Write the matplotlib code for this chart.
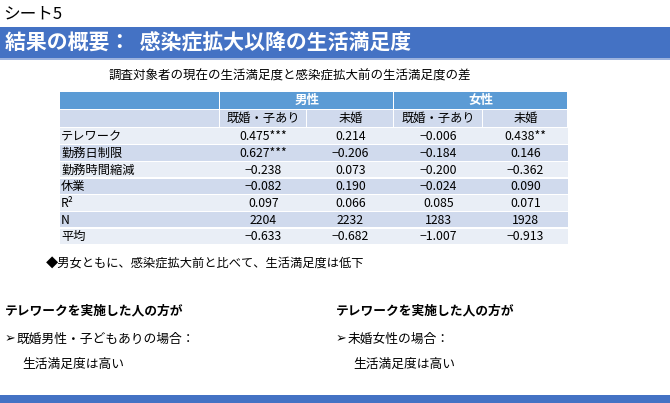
import matplotlib.pyplot as plt
from matplotlib.patches import Rectangle

plt.rcParams["font.family"] = "Noto Sans CJK JP"

ROW_LABELS = ["テレワーク", "勤務日制限", "勤務時間縮減", "休業", "R²", "N", "平均"]
GROUPS = ["男性", "女性"]
SUB_HEADERS = ["既婚・子あり", "未婚", "既婚・子あり", "未婚"]
MALE_MARRIED = ["0.475***", "0.627***", "−0.238", "−0.082", "0.097", "2204", "−0.633"]
MALE_SINGLE = ["0.214", "−0.206", "0.073", "0.190", "0.066", "2232", "−0.682"]
FEMALE_MARRIED = ["−0.006", "−0.184", "−0.200", "−0.024", "0.085", "1283", "−1.007"]
FEMALE_SINGLE = ["0.438**", "0.146", "−0.362", "0.090", "0.071", "1928", "−0.913"]

W, H = 670, 403
fig = plt.figure(figsize=(W / 100, H / 100), dpi=100)
ax = fig.add_axes([0, 0, 1, 1])
ax.set_xlim(0, W)
ax.set_ylim(H, 0)
ax.axis("off")

BLUE = "#4472C4"
ax.text(3, 14, "シート5", fontsize=12, va="center", ha="left", color="black")
ax.add_patch(Rectangle((0, 27), W, 31, color=BLUE, lw=0))
ax.add_patch(Rectangle((0, 58), W, 2, color="#9DB3DE", lw=0))
ax.text(5, 43, "結果の概要：  感染症拡大以降の生活満足度", fontsize=15, fontweight="bold",
        color="white", va="center", ha="left")
ax.text(290, 76, "調査対象者の現在の生活満足度と感染症拡大前の生活満足度の差",
        fontsize=9, va="center", ha="center")

# table geometry
xs = [60, 220, 307, 394, 483, 568]
y0, h1, h2 = 92, 17, 17
rh = 16.7
gap = 1.2
FS = 8.8

ax.add_patch(Rectangle((xs[0], y0), xs[1] - xs[0] - gap, h1, color="#5B9BD5", lw=0))
for g, (a, b) in zip(GROUPS, [(xs[1], xs[3]), (xs[3], xs[5])]):
    ax.add_patch(Rectangle((a, y0), b - a - gap, h1, color="#5B9BD5", lw=0))
    ax.text((a + b) / 2, y0 + h1 / 2, g, fontsize=9, fontweight="bold", color="white",
            ha="center", va="center")
ys = y0 + h1 + gap
for i in range(5):
    ax.add_patch(Rectangle((xs[i], ys), xs[i + 1] - xs[i] - gap, h2, color="#D0DAED", lw=0))
for i, s in enumerate(SUB_HEADERS):
    ax.text((xs[i + 1] + xs[i + 2]) / 2, ys + h2 / 2, s, fontsize=FS, ha="center", va="center")

cols = [MALE_MARRIED, MALE_SINGLE, FEMALE_MARRIED, FEMALE_SINGLE]
yr = ys + h2 + gap
for r, lab in enumerate(ROW_LABELS):
    top = yr + r * rh
    fc = "#E9EEF6" if r % 2 == 0 else "#D0DAED"
    ax.add_patch(Rectangle((xs[0], top), xs[5] - xs[0], rh - gap, color=fc, lw=0))
    ax.text(xs[0] + 1, top + rh / 2, lab, fontsize=FS, ha="left", va="center")
    for c, col in enumerate(cols):
        ax.text((xs[c + 1] + xs[c + 2]) / 2, top + rh / 2, col[r], fontsize=FS,
                ha="center", va="center")

ax.text(46, 263, "◆男女ともに、感染症拡大前と比べて、生活満足度は低下", fontsize=8.8, va="center")

BFS = 9.2
for x0, who in [(5, "既婚男性・子どもありの場合："), (336, "未婚女性の場合：")]:
    ax.text(x0, 311, "テレワークを実施した人の方が", fontsize=BFS, fontweight="bold", va="center")
    ax.text(x0, 339, "➢", fontsize=BFS, va="center", family="DejaVu Sans")
    ax.text(x0 + 12, 339, who, fontsize=BFS, va="center")
    ax.text(x0 + 17, 364, "生活満足度は高い", fontsize=BFS, va="center")

ax.add_patch(Rectangle((0, 395), W, 8, color=BLUE, lw=0))

fig.savefig("out.png", dpi=100)
